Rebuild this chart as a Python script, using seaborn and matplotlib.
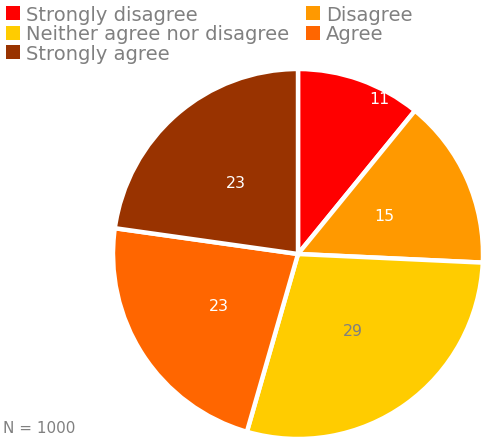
import matplotlib
matplotlib.use("Agg")
import matplotlib.pyplot as plt
import numpy as np
import seaborn as sns

sns.set_style("white")
plt.rcParams['font.family'] = ['DejaVu Sans']

# data
categories = ['Strongly disagree', 'Disagree', 'Neither agree nor disagree', 'Agree', 'Strongly agree']
values = [11, 15, 29, 23, 23]
colors = ['#FF0000', '#FF9900', '#FFCC00', '#FF6600', '#993300']
label_colors = ['white', 'white', '#808080', 'white', 'white']
note = 'N = 1000'

pal = sns.color_palette(colors)
total = sum(values)

fig = plt.figure(figsize=(4.82, 4.39), dpi=100)
ax = fig.add_axes([113/482, -1/439, 370/482, 370/439])

wedges, texts, autotexts = ax.pie(values, colors=pal, startangle=90, counterclock=False,
                                  autopct=lambda p: '%d' % round(p * total / 100),
                                  pctdistance=0.51,
                                  wedgeprops=dict(edgecolor='white', linewidth=3.2),
                                  textprops=dict(fontsize=11.3))
for t, c in zip(autotexts, label_colors):
    t.set_color(c)
# small first slice: label sits further out, nearer its right edge
w = wedges[0]
mid = np.deg2rad((w.theta1 + w.theta2) / 2 - 8)
autotexts[0].set_position((0.95 * np.cos(mid), 0.95 * np.sin(mid)))
ax.set_xlim(-1, 1)
ax.set_ylim(-1, 1)
ax.set_aspect('equal')

order = [0, 2, 4, 1, 3]
leg = fig.legend([wedges[i] for i in order], [categories[i] for i in order],
                 loc='upper left', bbox_to_anchor=(0.0, 1.0), ncol=2, frameon=False,
                 fontsize=14, labelspacing=0.03, handlelength=0.75, handleheight=0.75,
                 handletextpad=0.3, columnspacing=0.85, borderpad=0.15, borderaxespad=0.15)
for t in leg.get_texts():
    t.set_color('#808080')
for h in leg.legend_handles:
    h.set_linewidth(0)

fig.text(3/482, 3/439, note, fontsize=11, color='#808080', ha='left', va='bottom')

plt.savefig('out.png', dpi=100)
